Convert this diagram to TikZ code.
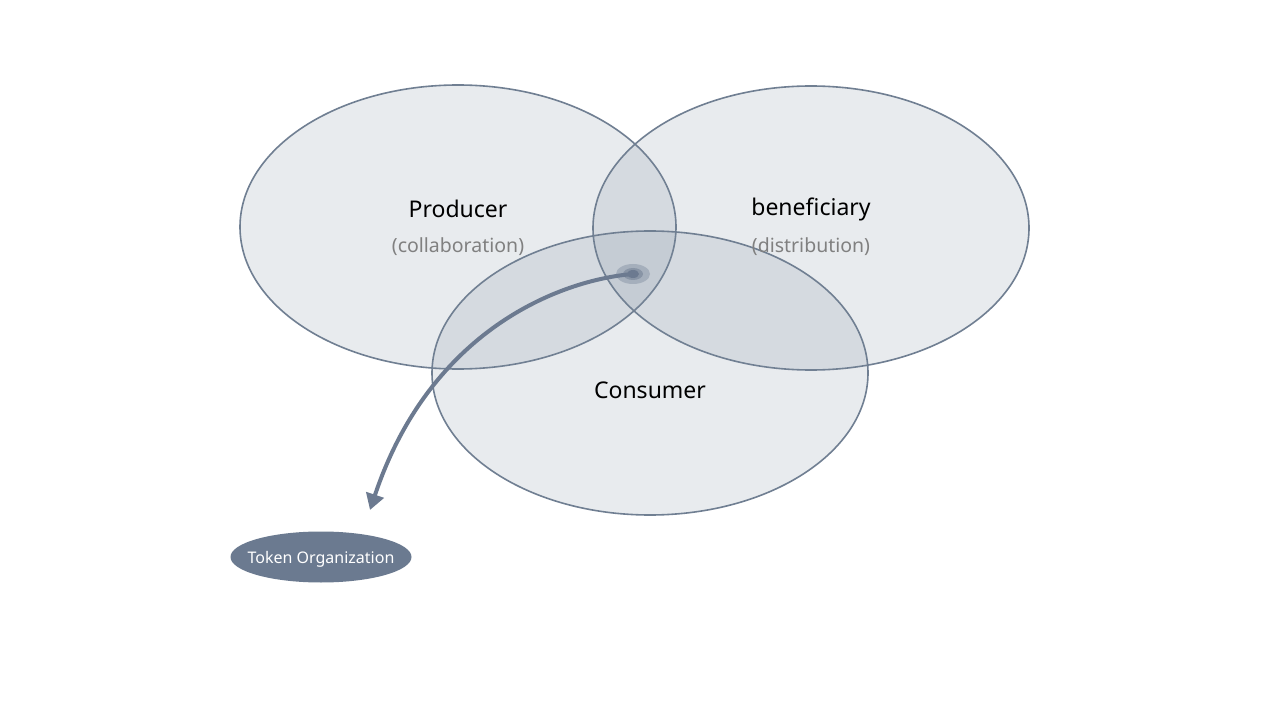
\documentclass[tikz,border=0pt]{standalone}
\usepackage{fontspec}
\setmainfont{Noto Sans}
\usetikzlibrary{arrows.meta}
\definecolor{edge}{RGB}{112,127,146}
\definecolor{fillc}{RGB}{120,137,155}
\definecolor{arrowc}{RGB}{108,122,144}
\definecolor{tokenc}{RGB}{107,122,144}
\definecolor{subc}{RGB}{128,128,128}
\tikzset{
  venn/.style={draw=edge, line width=1.6pt, fill=fillc, fill opacity=0.17, draw opacity=1},
  mainlbl/.style={font=\fontsize{23}{26}\selectfont, text=black},
  sublbl/.style={font=\fontsize{19.5}{22}\selectfont, text=subc},
  tokenlbl/.style={text=white, font=\fontsize{16}{18}\selectfont},
}
\begin{document}
\begin{tikzpicture}[x=1pt,y=-1pt]
\useasboundingbox (0,0) rectangle (1270,714);
\fill[white] (0,0) rectangle (1270,714);
\path[venn] (458,227) ellipse [x radius=218, y radius=142];
\path[venn] (811,228) ellipse [x radius=218, y radius=142];
\path[venn] (650,373) ellipse [x radius=218, y radius=142];
\node[mainlbl] (prod) at (458,209) {Producer};
\node[sublbl] (prodsub) at (458,247) {(collaboration)};
\node[mainlbl] (ben) at (811,209) {beneficiary};
\node[sublbl] (bensub) at (811,247) {(distribution)};
\node[mainlbl] (cons) at (650,390) {Consumer};
\fill[arrowc, opacity=0.35] (633,274) ellipse [x radius=17, y radius=10];
\fill[arrowc, opacity=0.5] (633,274) ellipse [x radius=10, y radius=6];
\coordinate (src) at (633,274);
\fill[arrowc] (src) ellipse [x radius=6, y radius=4];
\fill[tokenc] (321,557) ellipse [x radius=90.5, y radius=25.5];
\node[tokenlbl] (token) at (321,559) {Token Organization};
\coordinate (tip) at (370,510);
\draw[arrowc, line width=4pt, -{Triangle[length=16pt,width=18pt]}] (src) .. controls (560,280) and (430,330) .. (tip);
\end{tikzpicture}
\end{document}
